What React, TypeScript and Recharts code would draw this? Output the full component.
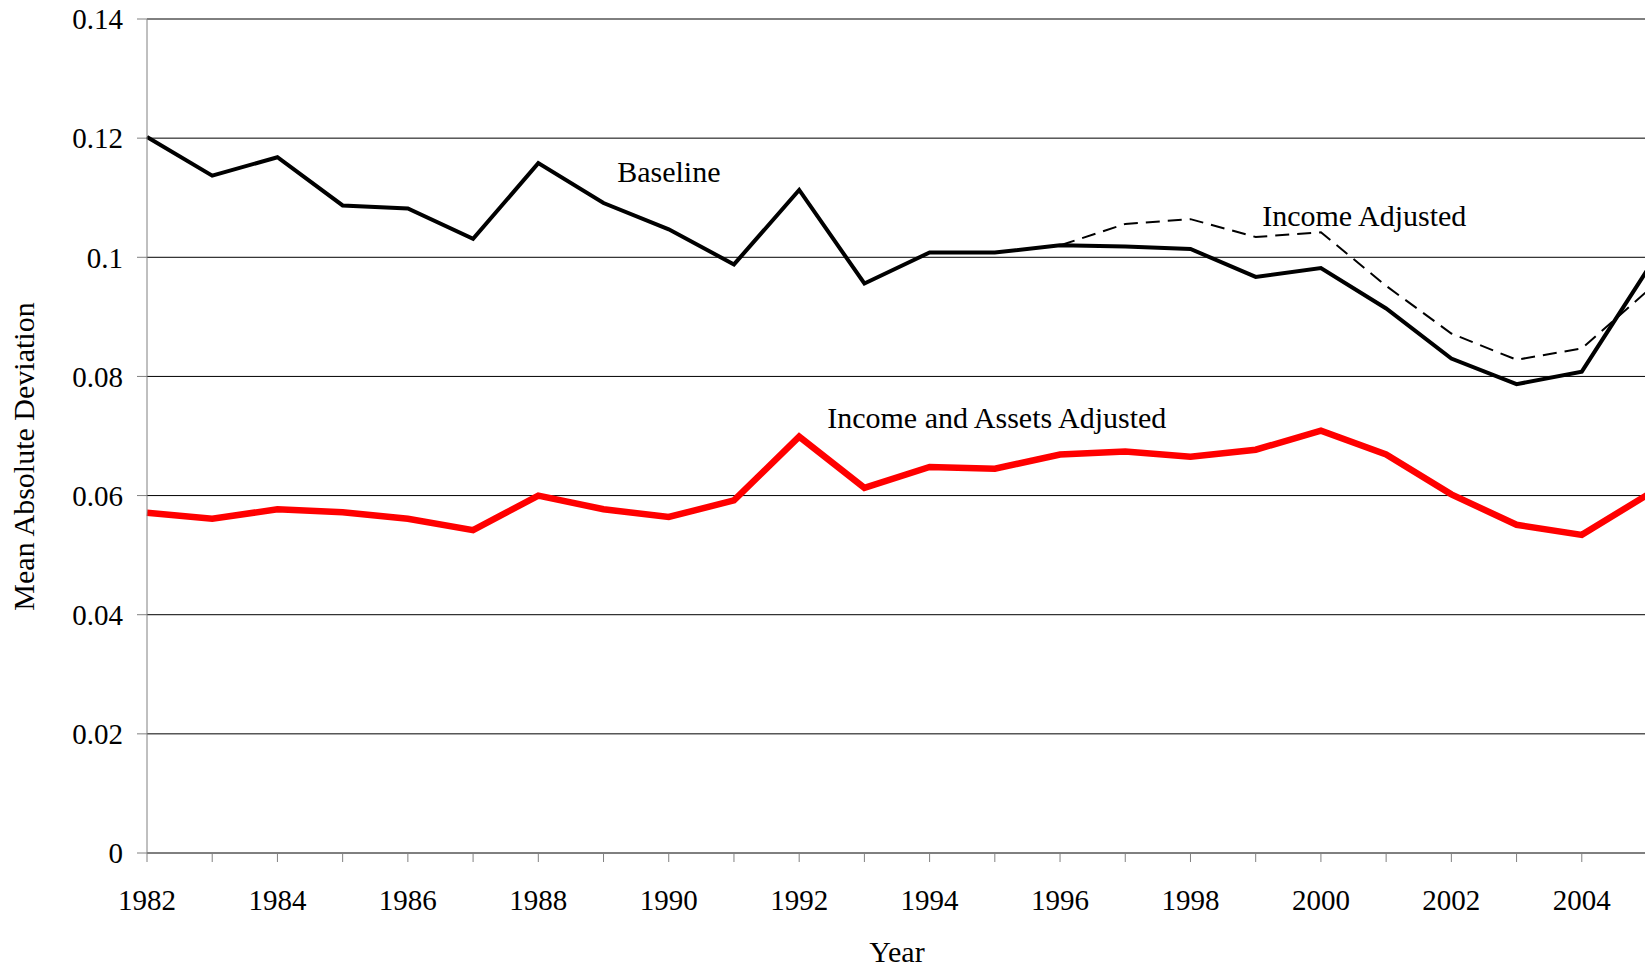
import { LineChart, Line, XAxis, YAxis, CartesianGrid, ReferenceDot } from 'recharts';

const years = [1982, 1983, 1984, 1985, 1986, 1987, 1988, 1989, 1990, 1991, 1992, 1993,
  1994, 1995, 1996, 1997, 1998, 1999, 2000, 2001, 2002, 2003, 2004, 2005];

const baseline = [0.1202, 0.1137, 0.1168, 0.1087, 0.1082, 0.1031, 0.1158, 0.1091, 0.1047, 0.0988,
  0.1113, 0.0956, 0.1008, 0.1008, 0.1020, 0.1018, 0.1014, 0.0967, 0.0982, 0.0914, 0.0830, 0.0787,
  0.0808, 0.0978];

const incomeAdjusted = [0.1202, 0.1137, 0.1168, 0.1087, 0.1082, 0.1031, 0.1158, 0.1091, 0.1047, 0.0988,
  0.1113, 0.0956, 0.1008, 0.1008, 0.1020, 0.1056, 0.1064, 0.1034, 0.1042, 0.0952, 0.0872, 0.0828,
  0.0847, 0.0943];

const incomeAssetsAdjusted = [0.0571, 0.0561, 0.0577, 0.0572, 0.0561, 0.0542, 0.0600, 0.0577, 0.0564,
  0.0592, 0.0699, 0.0613, 0.0648, 0.0645, 0.0669, 0.0674, 0.0665, 0.0677, 0.0709, 0.0669, 0.0602,
  0.0551, 0.0534, 0.0601];

const yTicks = [0, 0.02, 0.04, 0.06, 0.08, 0.1, 0.12, 0.14];

// series labels written inside the plot, anchored at (year, value) of the text baseline start
const annotations = [
  { text: 'Baseline', year: 1989.21, value: 0.1127 },
  { text: 'Income Adjusted', year: 1999.1, value: 0.1053 },
  { text: 'Income and Assets Adjusted', year: 1992.43, value: 0.0713 },
];

const FONT = '"Liberation Serif", "Times New Roman", serif';

const data = years.map((y, i) => ({
  year: y,
  baseline: baseline[i],
  income: incomeAdjusted[i],
  assets: incomeAssetsAdjusted[i],
}));

export default function App() {
  return (
    <div style={{ position: 'fixed', left: 0, top: 0, width: 1645, height: 968, overflow: 'hidden', background: '#fff' }}>
      <LineChart width={1647} height={968} data={data} margin={{ top: 19, right: 0, left: 0, bottom: 55 }}>
        <CartesianGrid vertical={false} stroke="#000" strokeWidth={1} />
        <XAxis
          dataKey="year"
          type="number"
          domain={[1982, 2005]}
          ticks={years}
          interval={0}
          height={60}
          tickSize={9}
          tickMargin={27}
          stroke="#808080"
          tick={{ fill: '#000', fontSize: 29, fontFamily: FONT }}
          tickFormatter={(v: number) => (v % 2 === 0 ? String(v) : '')}
          label={{
            content: (p: any) => (
              <text x={p.viewBox.x + p.viewBox.width / 2} y={p.viewBox.y + 108.7} textAnchor="middle"
                fontSize={30} fontFamily={FONT} fill="#000">Year</text>
            ),
          }}
        />
        <YAxis
          type="number"
          domain={[0, 0.14]}
          ticks={yTicks}
          width={147}
          tickSize={10}
          tickMargin={14}
          stroke="#808080"
          tick={{ fill: '#000', fontSize: 29, fontFamily: FONT }}
          tickFormatter={(v: number) => String(v)}
          label={{
            content: (p: any) => {
              const x = p.viewBox.x + 34;
              const y = p.viewBox.y + p.viewBox.height / 2 + 20.5;
              return (
                <text x={x} y={y} transform={`rotate(-90 ${x} ${y})`} textAnchor="middle"
                  fontSize={30} fontFamily={FONT} fill="#000">Mean Absolute Deviation</text>
              );
            },
          }}
        />
        <Line type="linear" dataKey="assets" stroke="#ff0000" strokeWidth={6.5} dot={false} isAnimationActive={false} />
        <Line type="linear" dataKey="income" stroke="#000" strokeWidth={2} strokeDasharray="14 8" dot={false} isAnimationActive={false} />
        <Line type="linear" dataKey="baseline" stroke="#000" strokeWidth={4} dot={false} isAnimationActive={false} />
        {annotations.map((a) => (
          <ReferenceDot
            key={a.text}
            x={a.year}
            y={a.value}
            r={0}
            shape={(p: any) => (
              <text x={p.cx} y={p.cy} textAnchor="start" fontSize={30} fontFamily={FONT} fill="#000">{a.text}</text>
            )}
          />
        ))}
      </LineChart>
    </div>
  );
}
